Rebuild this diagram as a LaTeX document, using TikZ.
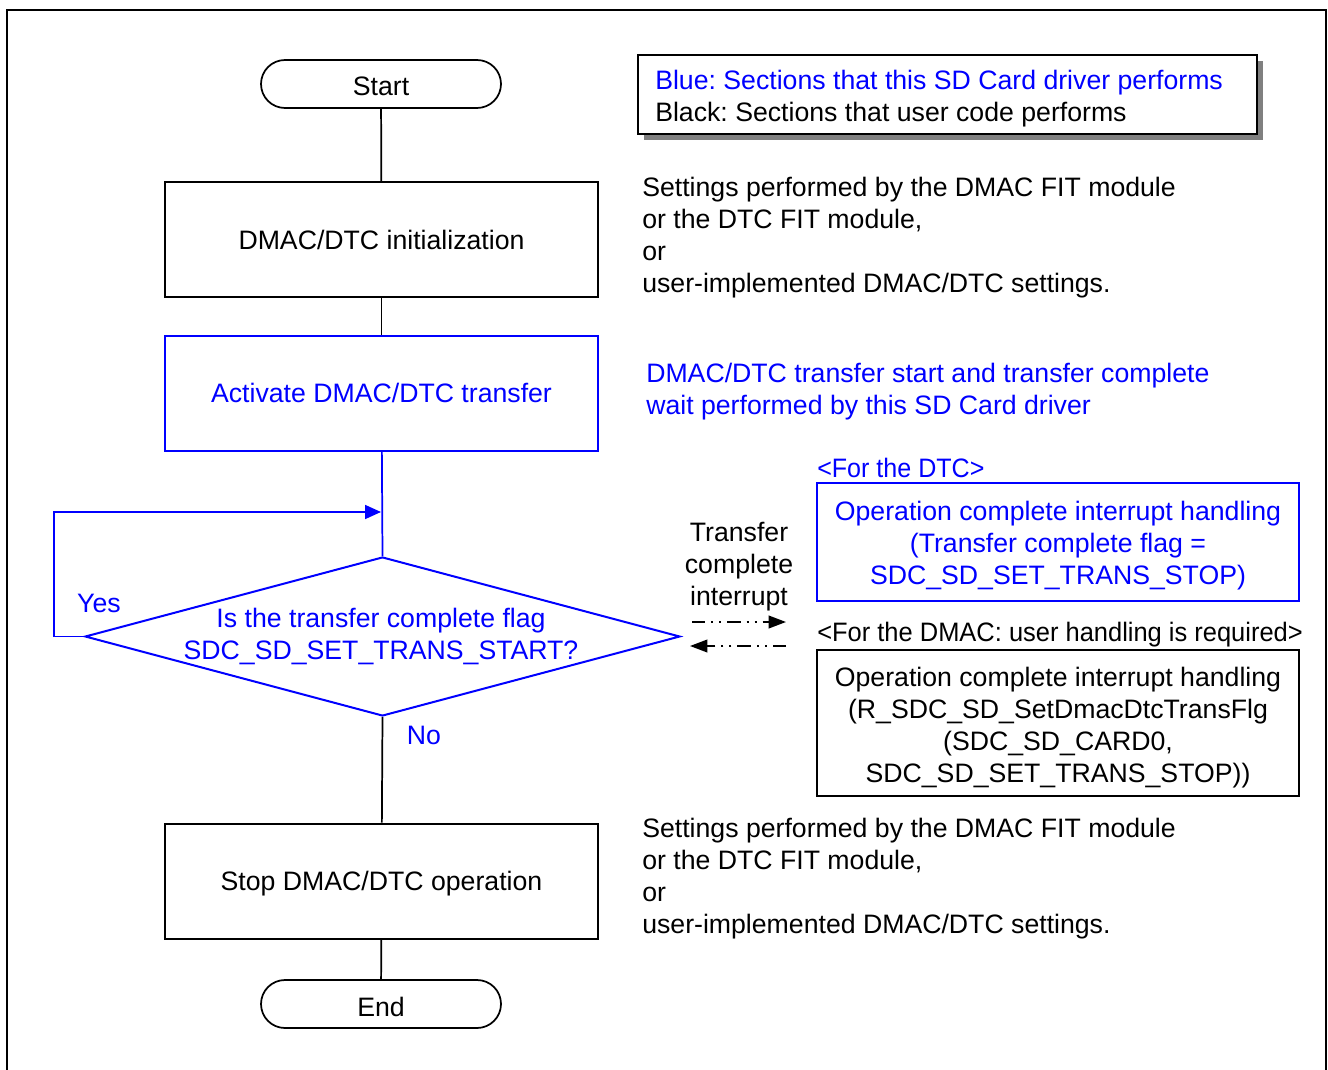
\documentclass[tikz,border=0pt]{standalone}
\usepackage{fontspec}
\setmainfont{Liberation Sans}
\usetikzlibrary{shapes.geometric,arrows.meta}
\frenchspacing
\begin{document}
\begin{tikzpicture}[x=0.75pt,y=-0.75pt,
  font=\fontsize{20pt}{24pt}\selectfont,
  term/.style={draw, line width=1.3pt, rectangle, rounded corners=18pt, minimum width=180pt, minimum height=36pt, inner sep=0, text height=18pt, text depth=0pt},
  procbox/.style={draw, line width=1.5pt, minimum width=324.75pt, minimum height=86.25pt, inner sep=0, align=center, text height=14.3pt, text depth=0pt},
  sidebox/.style={draw, line width=1.5pt, minimum width=361.5pt, inner sep=0},
  boxtext/.style={align=center, inner sep=0},
  note/.style={anchor=north west, inner sep=0, align=left},
  conn/.style={line width=1.3pt},
  dashdot/.style={line width=1.3pt, dash pattern=on 10pt off 4.5pt on 1.5pt off 4.5pt on 1.5pt off 4.5pt, -{Triangle[length=13pt,width=9.5pt]}}
]
\useasboundingbox (0,0) rectangle (1328,1070);
% outer frame
\draw[line width=1.8pt] (7,1090) -- (7,10) -- (1326,10) -- (1326,1090);

% flowchart
\node[term] (start) at (381,84) {Start};
\node[procbox] (init) at (381.5,239.5) {DMAC/DTC initialization};
\node[procbox, draw=blue, text=blue] (act) at (381.5,393) {Activate DMAC/DTC transfer};
\node[diamond, draw=blue, line width=1.5pt, minimum width=446.25pt, minimum height=119.25pt, inner sep=0] (dia) at (382.5,636.5) {};
\node[text=blue, boxtext] (diat) at (381,636) {Is the transfer complete flag\\SDC\_SD\_SET\_TRANS\_START?};
\node[procbox] (stop) at (381.5,881) {Stop DMAC/DTC operation};
\node[term] (end) at (381,1004) {End};

\draw[conn] (start) -- (init);
\draw[conn] (init) -- (act);
\draw[conn, blue] (act) -- (dia.north);
\draw[conn] (dia.south) -- (stop);
\draw[conn] (stop) -- (end);

\coordinate (loopin) at (381,512);
\draw[conn, blue, -{Triangle[length=12pt,width=10.5pt]}] (dia.west) -- ++(-30,0) |- (loopin);

\node[text=blue] (yes) at (99,603) {Yes};
\node[text=blue] (no) at (424,735) {No};

% legend
\fill[gray] (644,61) rectangle (1263,140);
\node[draw, line width=1.5pt, fill=white, minimum width=464.25pt, minimum height=59.25pt, inner sep=0] (legend) at (947.5,94.5) {};
\node[note] (legendt) at (655,70) {{\color{blue}Blue: Sections that this SD Card driver performs}\\Black: Sections that user code performs};

% notes
\node[note] (n1) at (642,177) {Settings performed by the DMAC FIT module\\or the DTC FIT module,\\or\\user-implemented DMAC/DTC settings.};
\node[note, text=blue] (n2) at (646,363) {DMAC/DTC transfer start and transfer complete\\wait performed by this SD Card driver};
\node[note, text=blue] (n3) at (817,458) {\scalebox{0.94}[1]{<For the DTC>}};
\node[sidebox, draw=blue, minimum height=88.5pt] (dtc) at (1058,542) {};
\node[boxtext, text=blue] (dtct) at (1058,546) {Operation complete interrupt handling\\(Transfer complete flag =\\SDC\_SD\_SET\_TRANS\_STOP)};
\node[note] (n4) at (817,622) {\scalebox{0.955}[1]{<For the DMAC: user handling is required>}};
\node[sidebox, minimum height=109.5pt] (dmac) at (1058,723) {};
\node[boxtext] (dmact) at (1058,728) {Operation complete interrupt handling\\(R\_SDC\_SD\_SetDmacDtcTransFlg\\(SDC\_SD\_CARD0,\\SDC\_SD\_SET\_TRANS\_STOP))};
\node[note] (n5) at (642,818) {Settings performed by the DMAC FIT module\\or the DTC FIT module,\\or\\user-implemented DMAC/DTC settings.};

% interrupt arrows
\node[boxtext] (tci) at (739,567) {Transfer\\complete\\interrupt};
\coordinate (a1s) at (692,622);
\coordinate (a1e) at (786,622);
\coordinate (a2s) at (786,646);
\coordinate (a2e) at (690,646);
\draw[dashdot] (a1s) -- (a1e);
\draw[dashdot] (a2s) -- (a2e);
\end{tikzpicture}
\end{document}
